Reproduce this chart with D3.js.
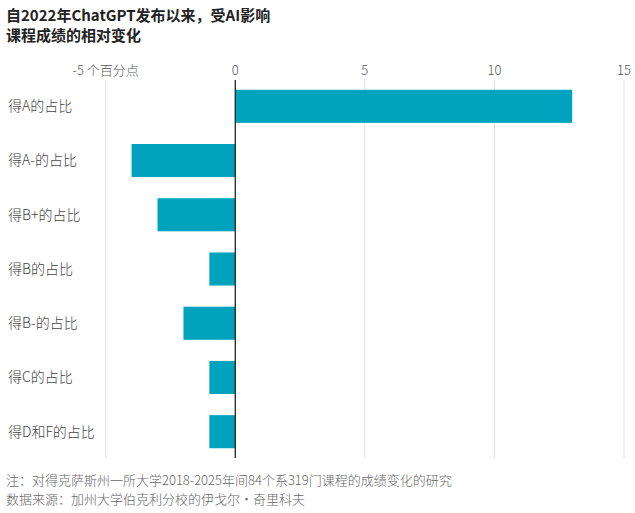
<!DOCTYPE html>
<html>
<head>
<meta charset="utf-8">
<script src="https://cdn.jsdelivr.net/npm/d3@7"></script>
<style>
  body { margin: 0; background: #fff; }
  svg { display: block; font-family: "Noto Sans CJK SC", "Noto Sans", sans-serif; }
</style>
</head>
<body>
<svg id="chart" width="635" height="513"></svg>
<script>
// données
const categories = ['得A的占比', '得A-的占比', '得B+的占比', '得B的占比', '得B-的占比', '得C的占比', '得D和F的占比'];
const changes = [13.0, -4.0, -3.0, -1.0, -2.0, -1.0, -1.0];
const tickValues = [-5, 0, 5, 10, 15];
const tickLabels = ['-5 个百分点', '0', '5', '10', '15'];
const titleLines = ['自2022年ChatGPT发布以来，受AI影响', '课程成绩的相对变化'];
const footLines = ['注：对得克萨斯州一所大学2018-2025年间84个系319门课程的成绩变化的研究', '数据来源：加州大学伯克利分校的伊戈尔・奇里科夫'];

const svg = d3.select('#chart');
const plot = {top: 80, bottom: 458};

const x = d3.scaleLinear().domain([-5, 15]).range([105.7, 624]);
const y = d3.scaleBand().domain(categories).range([plot.top, plot.bottom]).paddingInner(0.39).paddingOuter(0.18);

// titre
svg.append('g').selectAll('text').data(titleLines).enter().append('text')
  .attr('x', 6).attr('y', (d, i) => 21 + i * 20)
  .attr('font-size', 15).attr('font-weight', 'bold').attr('fill', '#222')
  .text(d => d);

// grille
svg.append('g').selectAll('line').data(tickValues.filter(v => v !== 0)).enter().append('line')
  .attr('x1', d => x(d)).attr('x2', d => x(d))
  .attr('y1', plot.top).attr('y2', plot.bottom)
  .attr('stroke', '#e2e2e2').attr('stroke-width', 1);

// étiquettes de l'axe
svg.append('g').selectAll('text').data(tickValues).enter().append('text')
  .attr('x', d => x(d)).attr('y', 75)
  .attr('text-anchor', 'middle').attr('font-size', 13).attr('font-weight', 300).attr('fill', '#555')
  .text((d, i) => tickLabels[i]);

// barres
svg.append('g').selectAll('rect').data(changes).enter().append('rect')
  .attr('x', d => x(Math.min(0, d)))
  .attr('width', d => Math.abs(x(d) - x(0)))
  .attr('y', (d, i) => y(categories[i]))
  .attr('height', y.bandwidth())
  .attr('fill', '#00a3be');

// ligne zéro
svg.append('line')
  .attr('x1', x(0)).attr('x2', x(0))
  .attr('y1', plot.top).attr('y2', plot.bottom)
  .attr('stroke', '#222').attr('stroke-width', 1.3);

// catégories
svg.append('g').selectAll('text').data(categories).enter().append('text')
  .attr('x', 8).attr('y', d => y(d) + y.bandwidth() / 2)
  .attr('dy', '0.35em').attr('font-size', 14).attr('font-weight', 300).attr('fill', '#444')
  .text(d => d);

// notes
svg.append('g').selectAll('text').data(footLines).enter().append('text')
  .attr('x', 6).attr('y', (d, i) => 485 + i * 19)
  .attr('font-size', 13).attr('font-weight', 300).attr('fill', '#666')
  .text(d => d);
</script>
</body>
</html>
